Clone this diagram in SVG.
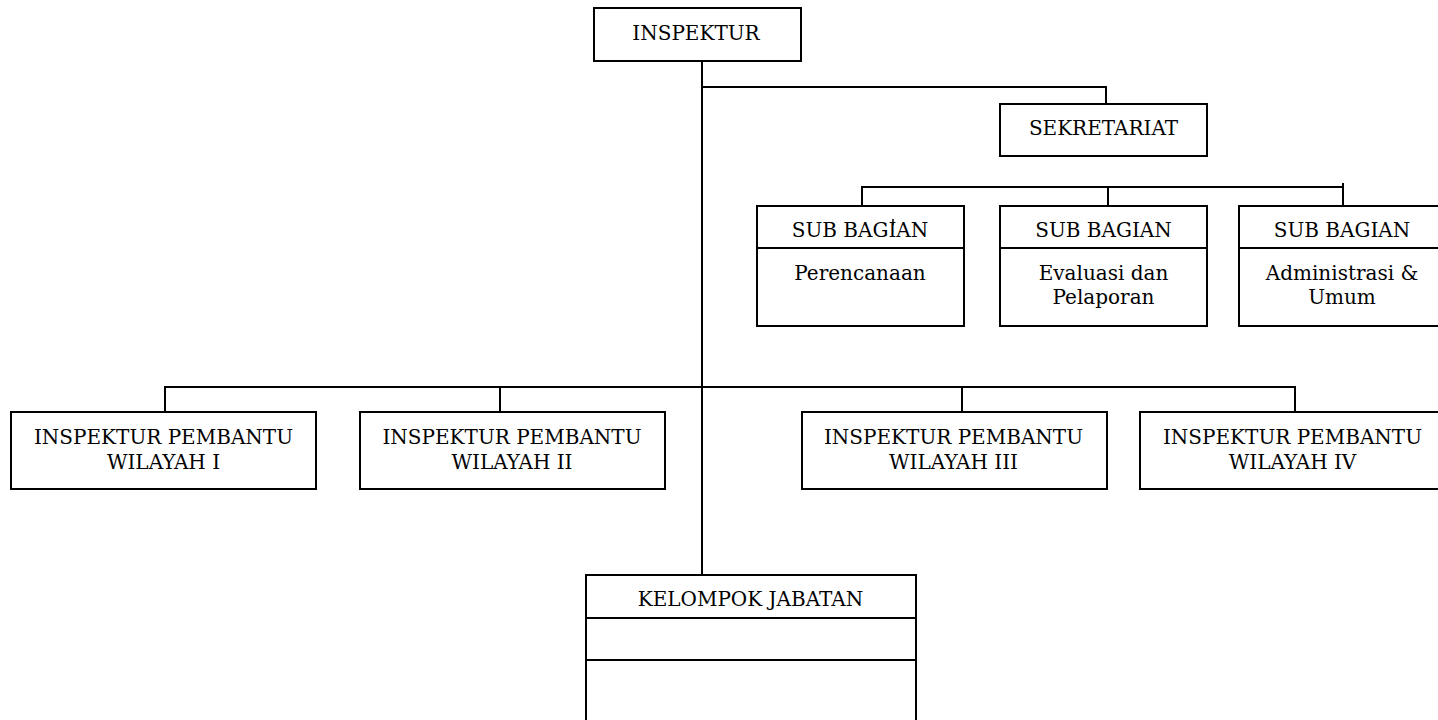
<svg xmlns="http://www.w3.org/2000/svg" width="1438" height="720" viewBox="0 0 1438 720">
<style>
rect.box{fill:#fff;stroke:#000;stroke-width:2}
line.div{stroke:#000;stroke-width:2}
#connectors line{stroke:#000;stroke-width:2}
text{font-family:"DejaVu Serif","Liberation Serif",serif;font-size:20px;fill:#000;text-anchor:middle}
</style>
<rect width="1438" height="720" fill="#fff"/>
<g id="connectors">
<line x1="702" y1="61" x2="702" y2="575"/>
<line x1="701" y1="87" x2="1107" y2="87"/>
<line x1="1106" y1="86" x2="1106" y2="104"/>
<line x1="861" y1="187" x2="1344" y2="187"/>
<line x1="862" y1="186" x2="862" y2="206"/>
<line x1="1108" y1="187" x2="1108" y2="206"/>
<line x1="1343" y1="183" x2="1343" y2="206"/>
<line x1="164" y1="387" x2="1296" y2="387"/>
<line x1="165" y1="386" x2="165" y2="412"/>
<line x1="500" y1="387" x2="500" y2="414"/>
<line x1="962" y1="387" x2="962" y2="414"/>
<line x1="1295" y1="386" x2="1295" y2="412"/>
</g>
<g id="inspektur">
<rect class="box" x="594" y="8" width="207" height="53"/>
<text x="696" y="40">INSPEKTUR</text>
</g>
<g id="sekretariat">
<rect class="box" x="1000" y="104" width="207" height="52"/>
<text x="1103.5" y="135">SEKRETARIAT</text>
</g>
<g id="sub-perencanaan">
<rect class="box" x="757" y="206" width="207" height="120"/>
<line class="div" x1="757" y1="248" x2="964" y2="248"/>
<text x="860" y="237">SUB BAGIAN</text>
<line x1="893" y1="219" x2="893" y2="225" stroke="#000" stroke-width="1.5"/>
<text x="860" y="280">Perencanaan</text>
</g>
<g id="sub-evaluasi">
<rect class="box" x="1000" y="206" width="207" height="120"/>
<line class="div" x1="1000" y1="248" x2="1207" y2="248"/>
<text x="1103.5" y="237">SUB BAGIAN</text>
<text x="1103.5" y="280">Evaluasi dan</text>
<text x="1103.5" y="304">Pelaporan</text>
</g>
<g id="sub-administrasi">
<rect class="box" x="1239" y="206" width="210" height="120"/>
<line class="div" x1="1239" y1="248" x2="1449" y2="248"/>
<text x="1342" y="237">SUB BAGIAN</text>
<text x="1342" y="280">Administrasi &amp;</text>
<text x="1342" y="304">Umum</text>
</g>
<g id="ipw1">
<rect class="box" x="11" y="412" width="305" height="77"/>
<text x="163.5" y="444">INSPEKTUR PEMBANTU</text>
<text x="163.5" y="469">WILAYAH I</text>
</g>
<g id="ipw2">
<rect class="box" x="360" y="412" width="305" height="77"/>
<text x="512" y="444">INSPEKTUR PEMBANTU</text>
<text x="512" y="469">WILAYAH II</text>
</g>
<g id="ipw3">
<rect class="box" x="802" y="412" width="305" height="77"/>
<text x="953.5" y="444">INSPEKTUR PEMBANTU</text>
<text x="953.5" y="469">WILAYAH III</text>
</g>
<g id="ipw4">
<rect class="box" x="1140" y="412" width="310" height="77"/>
<text x="1292.5" y="444">INSPEKTUR PEMBANTU</text>
<text x="1292.5" y="469">WILAYAH IV</text>
</g>
<g id="kelompok-jabatan">
<rect class="box" x="586" y="575" width="330" height="160"/>
<line class="div" x1="586" y1="618" x2="916" y2="618"/>
<line class="div" x1="586" y1="660" x2="916" y2="660"/>
<text x="750.5" y="606">KELOMPOK JABATAN</text>
</g>
</svg>
